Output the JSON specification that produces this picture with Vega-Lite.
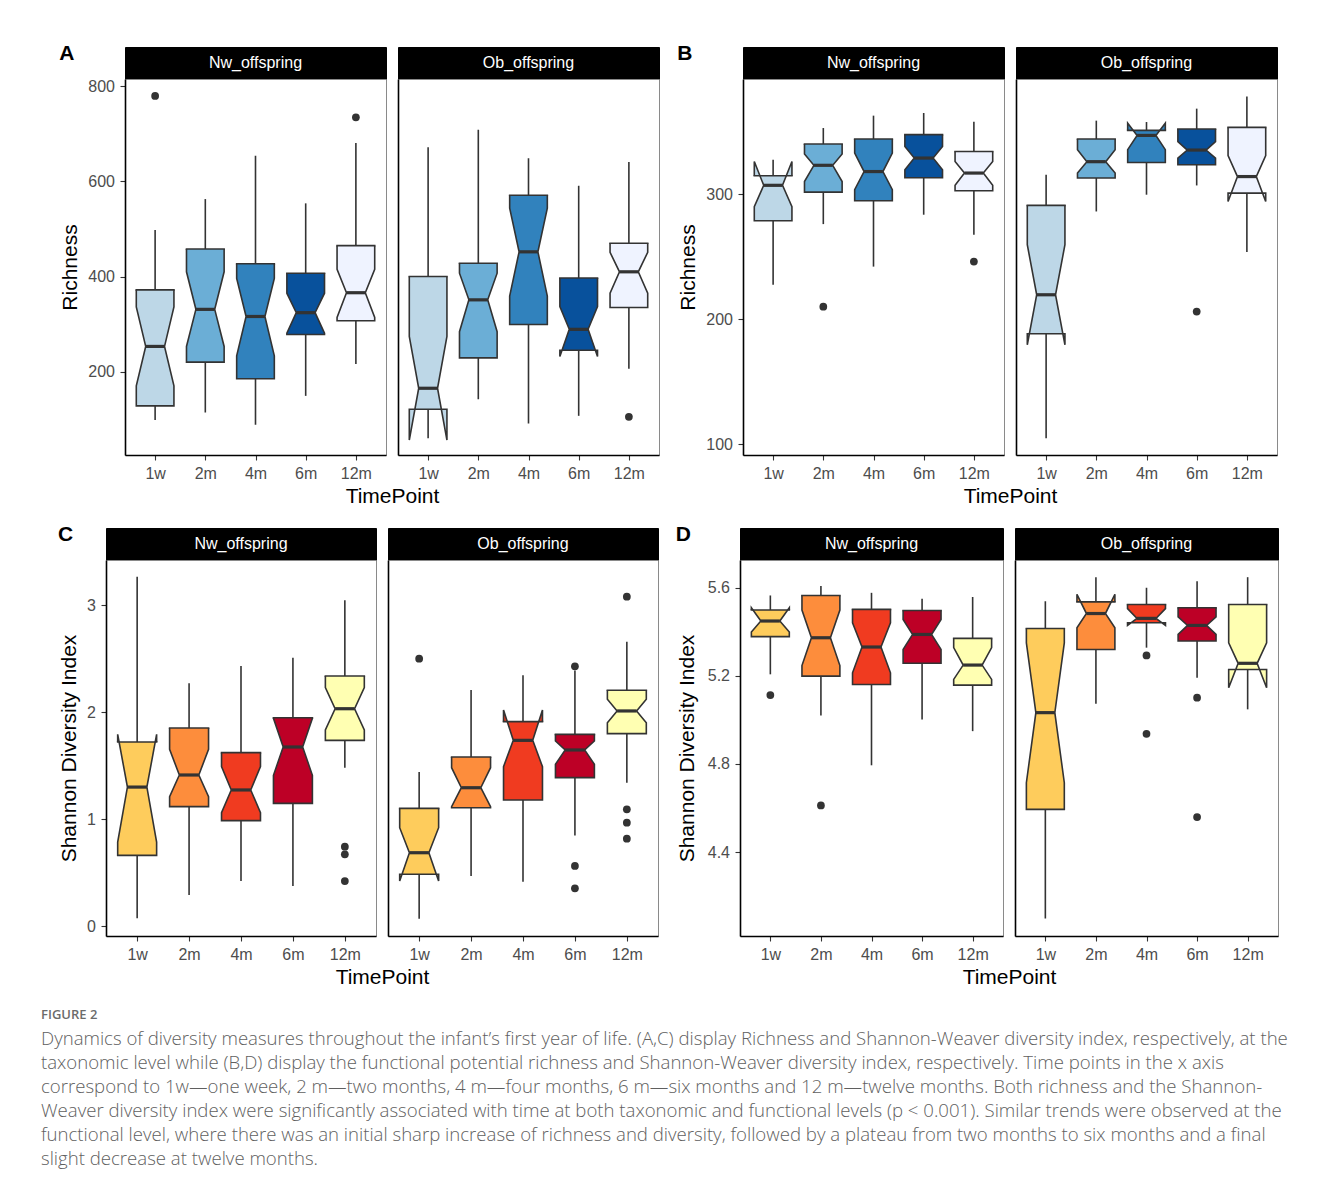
{
"$schema": "https://vega.github.io/schema/vega-lite/v6.json",
"padding": {"left": 41, "top": 42, "right": 5, "bottom": 5},
"config": {
  "font": "Liberation Sans",
  "axis": {"domainColor": "#000000", "domainWidth": 1.6, "tickColor": "#333333", "tickWidth": 1.1, "tickSize": 5, "labelFont": "Liberation Sans", "labelFontSize": 16, "labelColor": "#4d4d4d", "labelPadding": 5.5, "titleFont": "Liberation Sans", "titleFontSize": 21, "titleFontWeight": "normal", "titleColor": "#000000", "grid": false},
  "axisX": {"titlePadding": 4, "labelPadding": 5},
  "axisY": {"titlePadding": 7}
},
"resolve": {"scale": {"fill": "independent"}},
"datasets": {
  "box": [
    {"p":"A","g":"Nw","tp":"1w","lo":98,"q1":128,"nlo":170,"med":253,"nhi":336,"q3":372,"hi":498},
    {"p":"A","g":"Nw","tp":"2m","lo":114,"q1":220,"nlo":253,"med":331,"nhi":410,"q3":458,"hi":563},
    {"p":"A","g":"Nw","tp":"4m","lo":88,"q1":185,"nlo":233,"med":316,"nhi":396,"q3":427,"hi":654},
    {"p":"A","g":"Nw","tp":"6m","lo":149,"q1":278,"nlo":281,"med":324,"nhi":365,"q3":407,"hi":554},
    {"p":"A","g":"Nw","tp":"12m","lo":216,"q1":307,"nlo":314,"med":366,"nhi":415,"q3":465,"hi":681},
    {"p":"A","g":"Ob","tp":"1w","lo":60,"q1":121,"nlo":56,"med":165,"nhi":274,"q3":400,"hi":672},
    {"p":"A","g":"Ob","tp":"2m","lo":142,"q1":229,"nlo":284,"med":351,"nhi":407,"q3":428,"hi":709},
    {"p":"A","g":"Ob","tp":"4m","lo":91,"q1":299,"nlo":359,"med":452,"nhi":544,"q3":571,"hi":649},
    {"p":"A","g":"Ob","tp":"6m","lo":107,"q1":245,"nlo":232,"med":289,"nhi":337,"q3":397,"hi":591},
    {"p":"A","g":"Ob","tp":"12m","lo":206,"q1":335,"nlo":365,"med":410,"nhi":451,"q3":470,"hi":641},
    {"p":"B","g":"Nw","tp":"1w","lo":227.5,"q1":278.7,"nlo":290,"med":307,"nhi":326,"q3":314.7,"hi":327.5},
    {"p":"B","g":"Nw","tp":"2m","lo":276,"q1":301.6,"nlo":310,"med":323,"nhi":332,"q3":340,"hi":352.8},
    {"p":"B","g":"Nw","tp":"4m","lo":242,"q1":294.7,"nlo":303.5,"med":318,"nhi":332.8,"q3":344,"hi":362.7},
    {"p":"B","g":"Nw","tp":"6m","lo":283.5,"q1":313,"nlo":319.5,"med":328.8,"nhi":338,"q3":347.5,"hi":364.8},
    {"p":"B","g":"Nw","tp":"12m","lo":267.5,"q1":302.7,"nlo":307,"med":316.8,"nhi":326,"q3":334,"hi":357.9},
    {"p":"B","g":"Ob","tp":"1w","lo":104.8,"q1":188.3,"nlo":179.5,"med":219.5,"nhi":259.5,"q3":291,"hi":315.5},
    {"p":"B","g":"Ob","tp":"2m","lo":286.1,"q1":312.8,"nlo":316.8,"med":325.9,"nhi":335.5,"q3":344,"hi":358.7},
    {"p":"B","g":"Ob","tp":"4m","lo":299.5,"q1":325.3,"nlo":335.5,"med":346.9,"nhi":356.8,"q3":350.9,"hi":357.6},
    {"p":"B","g":"Ob","tp":"6m","lo":306.9,"q1":323.5,"nlo":328.8,"med":335.2,"nhi":342,"q3":352,"hi":368.3},
    {"p":"B","g":"Ob","tp":"12m","lo":253.6,"q1":300.8,"nlo":294,"med":314,"nhi":330.7,"q3":353.3,"hi":378.1},
    {"p":"C","g":"Nw","tp":"1w","lo":0.072,"q1":0.661,"nlo":0.786,"med":1.3,"nhi":1.793,"q3":1.722,"hi":3.268},
    {"p":"C","g":"Nw","tp":"2m","lo":0.29,"q1":1.117,"nlo":1.21,"med":1.413,"nhi":1.653,"q3":1.852,"hi":2.27},
    {"p":"C","g":"Nw","tp":"4m","lo":0.421,"q1":0.986,"nlo":1.061,"med":1.273,"nhi":1.491,"q3":1.622,"hi":2.432},
    {"p":"C","g":"Nw","tp":"6m","lo":0.374,"q1":1.148,"nlo":1.41,"med":1.675,"nhi":1.943,"q3":1.949,"hi":2.51},
    {"p":"C","g":"Nw","tp":"12m","lo":1.481,"q1":1.737,"nlo":1.834,"med":2.033,"nhi":2.23,"q3":2.339,"hi":3.047},
    {"p":"C","g":"Ob","tp":"1w","lo":0.069,"q1":0.484,"nlo":0.421,"med":0.686,"nhi":0.92,"q3":1.101,"hi":1.441},
    {"p":"C","g":"Ob","tp":"2m","lo":0.468,"q1":1.107,"nlo":1.117,"med":1.294,"nhi":1.481,"q3":1.581,"hi":2.208},
    {"p":"C","g":"Ob","tp":"4m","lo":0.415,"q1":1.179,"nlo":1.491,"med":1.737,"nhi":2.021,"q3":1.912,"hi":2.345},
    {"p":"C","g":"Ob","tp":"6m","lo":0.848,"q1":1.388,"nlo":1.513,"med":1.647,"nhi":1.731,"q3":1.793,"hi":2.39},
    {"p":"C","g":"Ob","tp":"12m","lo":1.341,"q1":1.8,"nlo":1.902,"med":2.012,"nhi":2.121,"q3":2.205,"hi":2.66},
    {"p":"D","g":"Nw","tp":"1w","lo":5.207,"q1":5.378,"nlo":5.399,"med":5.449,"nhi":5.509,"q3":5.499,"hi":5.565},
    {"p":"D","g":"Nw","tp":"2m","lo":5.02,"q1":5.199,"nlo":5.247,"med":5.373,"nhi":5.499,"q3":5.565,"hi":5.608},
    {"p":"D","g":"Nw","tp":"4m","lo":4.794,"q1":5.161,"nlo":5.214,"med":5.331,"nhi":5.441,"q3":5.502,"hi":5.577},
    {"p":"D","g":"Nw","tp":"6m","lo":5.002,"q1":5.257,"nlo":5.32,"med":5.388,"nhi":5.456,"q3":5.497,"hi":5.55},
    {"p":"D","g":"Nw","tp":"12m","lo":4.949,"q1":5.158,"nlo":5.184,"med":5.249,"nhi":5.328,"q3":5.37,"hi":5.558},
    {"p":"D","g":"Ob","tp":"1w","lo":4.098,"q1":4.594,"nlo":4.715,"med":5.033,"nhi":5.35,"q3":5.415,"hi":5.539},
    {"p":"D","g":"Ob","tp":"2m","lo":5.073,"q1":5.32,"nlo":5.418,"med":5.483,"nhi":5.57,"q3":5.536,"hi":5.648},
    {"p":"D","g":"Ob","tp":"4m","lo":5.328,"q1":5.441,"nlo":5.429,"med":5.461,"nhi":5.505,"q3":5.524,"hi":5.6},
    {"p":"D","g":"Ob","tp":"6m","lo":5.191,"q1":5.358,"nlo":5.388,"med":5.429,"nhi":5.468,"q3":5.509,"hi":5.63},
    {"p":"D","g":"Ob","tp":"12m","lo":5.048,"q1":5.229,"nlo":5.146,"med":5.257,"nhi":5.35,"q3":5.524,"hi":5.648}
  ],
  "out": [
    {"p":"A","g":"Nw","tp":"1w","v":780},
    {"p":"A","g":"Nw","tp":"12m","v":735},
    {"p":"A","g":"Ob","tp":"12m","v":105},
    {"p":"B","g":"Nw","tp":"2m","v":210},
    {"p":"B","g":"Nw","tp":"12m","v":246},
    {"p":"B","g":"Ob","tp":"6m","v":206.1},
    {"p":"C","g":"Nw","tp":"12m","v":0.742},
    {"p":"C","g":"Nw","tp":"12m","v":0.671},
    {"p":"C","g":"Nw","tp":"12m","v":0.421},
    {"p":"C","g":"Ob","tp":"1w","v":2.501},
    {"p":"C","g":"Ob","tp":"6m","v":2.43},
    {"p":"C","g":"Ob","tp":"6m","v":0.562},
    {"p":"C","g":"Ob","tp":"6m","v":0.353},
    {"p":"C","g":"Ob","tp":"12m","v":3.081},
    {"p":"C","g":"Ob","tp":"12m","v":1.092},
    {"p":"C","g":"Ob","tp":"12m","v":0.967},
    {"p":"C","g":"Ob","tp":"12m","v":0.817},
    {"p":"D","g":"Nw","tp":"1w","v":5.113},
    {"p":"D","g":"Nw","tp":"2m","v":4.612},
    {"p":"D","g":"Ob","tp":"4m","v":5.293},
    {"p":"D","g":"Ob","tp":"4m","v":4.937},
    {"p":"D","g":"Ob","tp":"6m","v":5.101},
    {"p":"D","g":"Ob","tp":"6m","v":4.559}
  ]
},
"title": {
  "text": "FIGURE 2",
  "subtitle": [
    "Dynamics of diversity measures throughout the infant’s first year of life. (A,C) display Richness and Shannon-Weaver diversity index, respectively, at the",
    "taxonomic level while (B,D) display the functional potential richness and Shannon-Weaver diversity index, respectively. Time points in the x axis",
    "correspond to 1w—one week, 2 m—two months, 4 m—four months, 6 m—six months and 12 m—twelve months. Both richness and the Shannon-",
    "Weaver diversity index were significantly associated with time at both taxonomic and functional levels (p < 0.001). Similar trends were observed at the",
    "functional level, where there was an initial sharp increase of richness and diversity, followed by a plateau from two months to six months and a final",
    "slight decrease at twelve months."
  ],
  "orient": "bottom", "anchor": "start", "frame": "bounds", "dx": 0, "offset": 21,
  "font": "Open Sans", "fontSize": 13, "fontWeight": 600, "color": "#6b6b6b",
  "subtitleFont": "Open Sans", "subtitleFontSize": 18.6, "subtitleFontWeight": 300, "subtitleColor": "#5f5f5f", "subtitleLineHeight": 24, "subtitlePadding": 8
},
"vconcat": [
 {"hconcat": [
  {"width": 1, "height": 1, "data": {"values": []}, "mark": "point", "view": {"stroke": null}},
  {"columns": 2, "bounds": "flush", "spacing": {"row": 0, "column": 12},
   "title": {"text": "A", "anchor": "start", "frame": "bounds", "fontSize": 21, "fontWeight": "bold", "color": "#000000", "offset": 0, "dy": 17},
   "concat": [
    {"width": 261, "height": 32, "view": {"fill": "#000000", "stroke": "#000000"}, "data": {"values": [{"s": "Nw_offspring"}]}, "mark": {"type": "text", "color": "#ffffff", "fontSize": 16}, "encoding": {"text": {"field": "s"}}},
    {"width": 261, "height": 32, "view": {"fill": "#000000", "stroke": "#000000"}, "data": {"values": [{"s": "Ob_offspring"}]}, "mark": {"type": "text", "color": "#ffffff", "fontSize": 16}, "encoding": {"text": {"field": "s"}}},
    {"width": 261, "height": 376, "view": {"stroke": "#8a8a8a", "strokeWidth": 1},
     "data": {"name": "box"},
     "transform": [{"filter": "datum.p == 'A' && datum.g == 'Nw'"}, {"calculate": "indexof(['1w','2m','4m','6m','12m'], datum.tp) + 1", "as": "ix"}, {"calculate": "datum.ix - 0.375", "as": "xl"}, {"calculate": "datum.ix + 0.375", "as": "xr"}, {"calculate": "datum.ix - 0.1875", "as": "ml"}, {"calculate": "datum.ix + 0.1875", "as": "mr"}],
     "layer": [
      {"mark": {"type": "rule", "color": "#333333", "strokeWidth": 1.6}, "encoding": {
        "x": {"field": "ix", "type": "quantitative", "scale": {"domain": [0.4, 5.6], "nice": false, "zero": false}, "axis": {"values": [1,2,3,4,5], "labelExpr": "['1w','2m','4m','6m','12m'][datum.value - 1]", "title": "TimePoint", "titleX": 267}},
        "y": {"field": "lo", "type": "quantitative", "scale": {"domain": [24.6, 815.6], "nice": false, "zero": false}, "axis": {"values": [200,400,600,800], "format": "d", "title": "Richness"}},
        "y2": {"field": "hi"}}},
      {"transform": [{"fold": ["q3","nhi","med","nlo","q1"], "as": ["k","yv"]}, {"calculate": "1", "as": "sL"}, {"calculate": "1", "as": "sR"}, {"fold": ["sL","sR"], "as": ["side","one"]}, {"calculate": "indexof(['q3','nhi','med','nlo','q1'], datum.k)", "as": "kk"}, {"calculate": "datum.side == 'sL' ? datum.kk : 9 - datum.kk", "as": "ord"}, {"calculate": "datum.ix + (datum.side == 'sL' ? -1 : 1) * (datum.k == 'med' ? 0.1875 : 0.375)", "as": "xv"}],
       "mark": {"type": "line", "stroke": "#333333", "strokeWidth": 1.6, "strokeJoin": "miter", "strokeMiterLimit": 4},
       "encoding": {"x": {"field": "xv", "type": "quantitative"}, "y": {"field": "yv", "type": "quantitative"}, "order": {"field": "ord", "type": "quantitative"}, "detail": {"field": "tp"}, "fill": {"field": "tp", "type": "nominal", "legend": null, "scale": {"domain": ["1w","2m","4m","6m","12m"], "range": ["#BDD7E7","#6BAED6","#3182BD","#08519C","#EFF3FF"]}}}},
      {"mark": {"type": "rule", "color": "#333333", "strokeWidth": 1.6, "strokeCap": "square"}, "encoding": {"x": {"field": "xl", "type": "quantitative"}, "x2": {"field": "xr"}, "y": {"field": "q3", "type": "quantitative"}}},
      {"mark": {"type": "rule", "color": "#333333", "strokeWidth": 3.2}, "encoding": {"x": {"field": "ml", "type": "quantitative"}, "x2": {"field": "mr"}, "y": {"field": "med", "type": "quantitative"}}},
      {"data": {"name": "out"}, "transform": [{"filter": "datum.p == 'A' && datum.g == 'Nw'"}, {"calculate": "indexof(['1w','2m','4m','6m','12m'], datum.tp) + 1", "as": "ix"}], "mark": {"type": "point", "filled": true, "color": "#333333", "size": 60, "opacity": 1}, "encoding": {"x": {"field": "ix", "type": "quantitative"}, "y": {"field": "v", "type": "quantitative"}}}
     ]},
    {"width": 261, "height": 376, "view": {"stroke": "#8a8a8a", "strokeWidth": 1},
     "data": {"name": "box"},
     "transform": [{"filter": "datum.p == 'A' && datum.g == 'Ob'"}, {"calculate": "indexof(['1w','2m','4m','6m','12m'], datum.tp) + 1", "as": "ix"}, {"calculate": "datum.ix - 0.375", "as": "xl"}, {"calculate": "datum.ix + 0.375", "as": "xr"}, {"calculate": "datum.ix - 0.1875", "as": "ml"}, {"calculate": "datum.ix + 0.1875", "as": "mr"}],
     "layer": [
      {"mark": {"type": "rule", "color": "#333333", "strokeWidth": 1.6}, "encoding": {
        "x": {"field": "ix", "type": "quantitative", "scale": {"domain": [0.4, 5.6], "nice": false, "zero": false}, "axis": {"values": [1,2,3,4,5], "labelExpr": "['1w','2m','4m','6m','12m'][datum.value - 1]", "title": null}},
        "y": {"field": "lo", "type": "quantitative", "scale": {"domain": [24.6, 815.6], "nice": false, "zero": false}, "axis": {"labels": false, "ticks": false, "title": null}},
        "y2": {"field": "hi"}}},
      {"transform": [{"fold": ["q3","nhi","med","nlo","q1"], "as": ["k","yv"]}, {"calculate": "1", "as": "sL"}, {"calculate": "1", "as": "sR"}, {"fold": ["sL","sR"], "as": ["side","one"]}, {"calculate": "indexof(['q3','nhi','med','nlo','q1'], datum.k)", "as": "kk"}, {"calculate": "datum.side == 'sL' ? datum.kk : 9 - datum.kk", "as": "ord"}, {"calculate": "datum.ix + (datum.side == 'sL' ? -1 : 1) * (datum.k == 'med' ? 0.1875 : 0.375)", "as": "xv"}],
       "mark": {"type": "line", "stroke": "#333333", "strokeWidth": 1.6, "strokeJoin": "miter", "strokeMiterLimit": 4},
       "encoding": {"x": {"field": "xv", "type": "quantitative"}, "y": {"field": "yv", "type": "quantitative"}, "order": {"field": "ord", "type": "quantitative"}, "detail": {"field": "tp"}, "fill": {"field": "tp", "type": "nominal", "legend": null, "scale": {"domain": ["1w","2m","4m","6m","12m"], "range": ["#BDD7E7","#6BAED6","#3182BD","#08519C","#EFF3FF"]}}}},
      {"mark": {"type": "rule", "color": "#333333", "strokeWidth": 1.6, "strokeCap": "square"}, "encoding": {"x": {"field": "xl", "type": "quantitative"}, "x2": {"field": "xr"}, "y": {"field": "q3", "type": "quantitative"}}},
      {"mark": {"type": "rule", "color": "#333333", "strokeWidth": 3.2}, "encoding": {"x": {"field": "ml", "type": "quantitative"}, "x2": {"field": "mr"}, "y": {"field": "med", "type": "quantitative"}}},
      {"data": {"name": "out"}, "transform": [{"filter": "datum.p == 'A' && datum.g == 'Ob'"}, {"calculate": "indexof(['1w','2m','4m','6m','12m'], datum.tp) + 1", "as": "ix"}], "mark": {"type": "point", "filled": true, "color": "#333333", "size": 60, "opacity": 1}, "encoding": {"x": {"field": "ix", "type": "quantitative"}, "y": {"field": "v", "type": "quantitative"}}}
     ]}
   ]},
  {"columns": 2, "bounds": "flush", "spacing": {"row": 0, "column": 12},
   "title": {"text": "B", "anchor": "start", "frame": "bounds", "fontSize": 21, "fontWeight": "bold", "color": "#000000", "offset": 0, "dy": 17},
   "concat": [
    {"width": 261, "height": 32, "view": {"fill": "#000000", "stroke": "#000000"}, "data": {"values": [{"s": "Nw_offspring"}]}, "mark": {"type": "text", "color": "#ffffff", "fontSize": 16}, "encoding": {"text": {"field": "s"}}},
    {"width": 261, "height": 32, "view": {"fill": "#000000", "stroke": "#000000"}, "data": {"values": [{"s": "Ob_offspring"}]}, "mark": {"type": "text", "color": "#ffffff", "fontSize": 16}, "encoding": {"text": {"field": "s"}}},
    {"width": 261, "height": 376, "view": {"stroke": "#8a8a8a", "strokeWidth": 1},
     "data": {"name": "box"},
     "transform": [{"filter": "datum.p == 'B' && datum.g == 'Nw'"}, {"calculate": "indexof(['1w','2m','4m','6m','12m'], datum.tp) + 1", "as": "ix"}, {"calculate": "datum.ix - 0.375", "as": "xl"}, {"calculate": "datum.ix + 0.375", "as": "xr"}, {"calculate": "datum.ix - 0.1875", "as": "ml"}, {"calculate": "datum.ix + 0.1875", "as": "mr"}],
     "layer": [
      {"mark": {"type": "rule", "color": "#333333", "strokeWidth": 1.6}, "encoding": {
        "x": {"field": "ix", "type": "quantitative", "scale": {"domain": [0.4, 5.6], "nice": false, "zero": false}, "axis": {"values": [1,2,3,4,5], "labelExpr": "['1w','2m','4m','6m','12m'][datum.value - 1]", "title": "TimePoint", "titleX": 267}},
        "y": {"field": "lo", "type": "quantitative", "scale": {"domain": [91.4, 392], "nice": false, "zero": false}, "axis": {"values": [100,200,300], "format": "d", "title": "Richness"}},
        "y2": {"field": "hi"}}},
      {"transform": [{"fold": ["q3","nhi","med","nlo","q1"], "as": ["k","yv"]}, {"calculate": "1", "as": "sL"}, {"calculate": "1", "as": "sR"}, {"fold": ["sL","sR"], "as": ["side","one"]}, {"calculate": "indexof(['q3','nhi','med','nlo','q1'], datum.k)", "as": "kk"}, {"calculate": "datum.side == 'sL' ? datum.kk : 9 - datum.kk", "as": "ord"}, {"calculate": "datum.ix + (datum.side == 'sL' ? -1 : 1) * (datum.k == 'med' ? 0.1875 : 0.375)", "as": "xv"}],
       "mark": {"type": "line", "stroke": "#333333", "strokeWidth": 1.6, "strokeJoin": "miter", "strokeMiterLimit": 4},
       "encoding": {"x": {"field": "xv", "type": "quantitative"}, "y": {"field": "yv", "type": "quantitative"}, "order": {"field": "ord", "type": "quantitative"}, "detail": {"field": "tp"}, "fill": {"field": "tp", "type": "nominal", "legend": null, "scale": {"domain": ["1w","2m","4m","6m","12m"], "range": ["#BDD7E7","#6BAED6","#3182BD","#08519C","#EFF3FF"]}}}},
      {"mark": {"type": "rule", "color": "#333333", "strokeWidth": 1.6, "strokeCap": "square"}, "encoding": {"x": {"field": "xl", "type": "quantitative"}, "x2": {"field": "xr"}, "y": {"field": "q3", "type": "quantitative"}}},
      {"mark": {"type": "rule", "color": "#333333", "strokeWidth": 3.2}, "encoding": {"x": {"field": "ml", "type": "quantitative"}, "x2": {"field": "mr"}, "y": {"field": "med", "type": "quantitative"}}},
      {"data": {"name": "out"}, "transform": [{"filter": "datum.p == 'B' && datum.g == 'Nw'"}, {"calculate": "indexof(['1w','2m','4m','6m','12m'], datum.tp) + 1", "as": "ix"}], "mark": {"type": "point", "filled": true, "color": "#333333", "size": 60, "opacity": 1}, "encoding": {"x": {"field": "ix", "type": "quantitative"}, "y": {"field": "v", "type": "quantitative"}}}
     ]},
    {"width": 261, "height": 376, "view": {"stroke": "#8a8a8a", "strokeWidth": 1},
     "data": {"name": "box"},
     "transform": [{"filter": "datum.p == 'B' && datum.g == 'Ob'"}, {"calculate": "indexof(['1w','2m','4m','6m','12m'], datum.tp) + 1", "as": "ix"}, {"calculate": "datum.ix - 0.375", "as": "xl"}, {"calculate": "datum.ix + 0.375", "as": "xr"}, {"calculate": "datum.ix - 0.1875", "as": "ml"}, {"calculate": "datum.ix + 0.1875", "as": "mr"}],
     "layer": [
      {"mark": {"type": "rule", "color": "#333333", "strokeWidth": 1.6}, "encoding": {
        "x": {"field": "ix", "type": "quantitative", "scale": {"domain": [0.4, 5.6], "nice": false, "zero": false}, "axis": {"values": [1,2,3,4,5], "labelExpr": "['1w','2m','4m','6m','12m'][datum.value - 1]", "title": null}},
        "y": {"field": "lo", "type": "quantitative", "scale": {"domain": [91.4, 392], "nice": false, "zero": false}, "axis": {"labels": false, "ticks": false, "title": null}},
        "y2": {"field": "hi"}}},
      {"transform": [{"fold": ["q3","nhi","med","nlo","q1"], "as": ["k","yv"]}, {"calculate": "1", "as": "sL"}, {"calculate": "1", "as": "sR"}, {"fold": ["sL","sR"], "as": ["side","one"]}, {"calculate": "indexof(['q3','nhi','med','nlo','q1'], datum.k)", "as": "kk"}, {"calculate": "datum.side == 'sL' ? datum.kk : 9 - datum.kk", "as": "ord"}, {"calculate": "datum.ix + (datum.side == 'sL' ? -1 : 1) * (datum.k == 'med' ? 0.1875 : 0.375)", "as": "xv"}],
       "mark": {"type": "line", "stroke": "#333333", "strokeWidth": 1.6, "strokeJoin": "miter", "strokeMiterLimit": 4},
       "encoding": {"x": {"field": "xv", "type": "quantitative"}, "y": {"field": "yv", "type": "quantitative"}, "order": {"field": "ord", "type": "quantitative"}, "detail": {"field": "tp"}, "fill": {"field": "tp", "type": "nominal", "legend": null, "scale": {"domain": ["1w","2m","4m","6m","12m"], "range": ["#BDD7E7","#6BAED6","#3182BD","#08519C","#EFF3FF"]}}}},
      {"mark": {"type": "rule", "color": "#333333", "strokeWidth": 1.6, "strokeCap": "square"}, "encoding": {"x": {"field": "xl", "type": "quantitative"}, "x2": {"field": "xr"}, "y": {"field": "q3", "type": "quantitative"}}},
      {"mark": {"type": "rule", "color": "#333333", "strokeWidth": 3.2}, "encoding": {"x": {"field": "ml", "type": "quantitative"}, "x2": {"field": "mr"}, "y": {"field": "med", "type": "quantitative"}}},
      {"data": {"name": "out"}, "transform": [{"filter": "datum.p == 'B' && datum.g == 'Ob'"}, {"calculate": "indexof(['1w','2m','4m','6m','12m'], datum.tp) + 1", "as": "ix"}], "mark": {"type": "point", "filled": true, "color": "#333333", "size": 60, "opacity": 1}, "encoding": {"x": {"field": "ix", "type": "quantitative"}, "y": {"field": "v", "type": "quantitative"}}}
     ]}
   ]}
 ], "spacing": 17},
 {"hconcat": [
  {"width": 1, "height": 1, "data": {"values": []}, "mark": "point", "view": {"stroke": null}},
  {"columns": 2, "bounds": "flush", "spacing": {"row": 0, "column": 12},
   "title": {"text": "C", "anchor": "start", "frame": "bounds", "fontSize": 21, "fontWeight": "bold", "color": "#000000", "offset": 0, "dy": 17},
   "concat": [
    {"width": 270, "height": 32, "view": {"fill": "#000000", "stroke": "#000000"}, "data": {"values": [{"s": "Nw_offspring"}]}, "mark": {"type": "text", "color": "#ffffff", "fontSize": 16}, "encoding": {"text": {"field": "s"}}},
    {"width": 270, "height": 32, "view": {"fill": "#000000", "stroke": "#000000"}, "data": {"values": [{"s": "Ob_offspring"}]}, "mark": {"type": "text", "color": "#ffffff", "fontSize": 16}, "encoding": {"text": {"field": "s"}}},
    {"width": 270, "height": 376, "view": {"stroke": "#8a8a8a", "strokeWidth": 1},
     "data": {"name": "box"},
     "transform": [{"filter": "datum.p == 'C' && datum.g == 'Nw'"}, {"calculate": "indexof(['1w','2m','4m','6m','12m'], datum.tp) + 1", "as": "ix"}, {"calculate": "datum.ix - 0.375", "as": "xl"}, {"calculate": "datum.ix + 0.375", "as": "xr"}, {"calculate": "datum.ix - 0.1875", "as": "ml"}, {"calculate": "datum.ix + 0.1875", "as": "mr"}],
     "layer": [
      {"mark": {"type": "rule", "color": "#333333", "strokeWidth": 1.6}, "encoding": {
        "x": {"field": "ix", "type": "quantitative", "scale": {"domain": [0.4, 5.6], "nice": false, "zero": false}, "axis": {"values": [1,2,3,4,5], "labelExpr": "['1w','2m','4m','6m','12m'][datum.value - 1]", "title": "TimePoint", "titleX": 276}},
        "y": {"field": "lo", "type": "quantitative", "scale": {"domain": [-0.093, 3.424], "nice": false, "zero": false}, "axis": {"values": [0,1,2,3], "format": "d", "title": "Shannon Diversity Index"}},
        "y2": {"field": "hi"}}},
      {"transform": [{"fold": ["q3","nhi","med","nlo","q1"], "as": ["k","yv"]}, {"calculate": "1", "as": "sL"}, {"calculate": "1", "as": "sR"}, {"fold": ["sL","sR"], "as": ["side","one"]}, {"calculate": "indexof(['q3','nhi','med','nlo','q1'], datum.k)", "as": "kk"}, {"calculate": "datum.side == 'sL' ? datum.kk : 9 - datum.kk", "as": "ord"}, {"calculate": "datum.ix + (datum.side == 'sL' ? -1 : 1) * (datum.k == 'med' ? 0.1875 : 0.375)", "as": "xv"}],
       "mark": {"type": "line", "stroke": "#333333", "strokeWidth": 1.6, "strokeJoin": "miter", "strokeMiterLimit": 4},
       "encoding": {"x": {"field": "xv", "type": "quantitative"}, "y": {"field": "yv", "type": "quantitative"}, "order": {"field": "ord", "type": "quantitative"}, "detail": {"field": "tp"}, "fill": {"field": "tp", "type": "nominal", "legend": null, "scale": {"domain": ["1w","2m","4m","6m","12m"], "range": ["#FECC5C","#FD8D3C","#F03B20","#BD0026","#FFFFB2"]}}}},
      {"mark": {"type": "rule", "color": "#333333", "strokeWidth": 1.6, "strokeCap": "square"}, "encoding": {"x": {"field": "xl", "type": "quantitative"}, "x2": {"field": "xr"}, "y": {"field": "q3", "type": "quantitative"}}},
      {"mark": {"type": "rule", "color": "#333333", "strokeWidth": 3.2}, "encoding": {"x": {"field": "ml", "type": "quantitative"}, "x2": {"field": "mr"}, "y": {"field": "med", "type": "quantitative"}}},
      {"data": {"name": "out"}, "transform": [{"filter": "datum.p == 'C' && datum.g == 'Nw'"}, {"calculate": "indexof(['1w','2m','4m','6m','12m'], datum.tp) + 1", "as": "ix"}], "mark": {"type": "point", "filled": true, "color": "#333333", "size": 60, "opacity": 1}, "encoding": {"x": {"field": "ix", "type": "quantitative"}, "y": {"field": "v", "type": "quantitative"}}}
     ]},
    {"width": 270, "height": 376, "view": {"stroke": "#8a8a8a", "strokeWidth": 1},
     "data": {"name": "box"},
     "transform": [{"filter": "datum.p == 'C' && datum.g == 'Ob'"}, {"calculate": "indexof(['1w','2m','4m','6m','12m'], datum.tp) + 1", "as": "ix"}, {"calculate": "datum.ix - 0.375", "as": "xl"}, {"calculate": "datum.ix + 0.375", "as": "xr"}, {"calculate": "datum.ix - 0.1875", "as": "ml"}, {"calculate": "datum.ix + 0.1875", "as": "mr"}],
     "layer": [
      {"mark": {"type": "rule", "color": "#333333", "strokeWidth": 1.6}, "encoding": {
        "x": {"field": "ix", "type": "quantitative", "scale": {"domain": [0.4, 5.6], "nice": false, "zero": false}, "axis": {"values": [1,2,3,4,5], "labelExpr": "['1w','2m','4m','6m','12m'][datum.value - 1]", "title": null}},
        "y": {"field": "lo", "type": "quantitative", "scale": {"domain": [-0.093, 3.424], "nice": false, "zero": false}, "axis": {"labels": false, "ticks": false, "title": null}},
        "y2": {"field": "hi"}}},
      {"transform": [{"fold": ["q3","nhi","med","nlo","q1"], "as": ["k","yv"]}, {"calculate": "1", "as": "sL"}, {"calculate": "1", "as": "sR"}, {"fold": ["sL","sR"], "as": ["side","one"]}, {"calculate": "indexof(['q3','nhi','med','nlo','q1'], datum.k)", "as": "kk"}, {"calculate": "datum.side == 'sL' ? datum.kk : 9 - datum.kk", "as": "ord"}, {"calculate": "datum.ix + (datum.side == 'sL' ? -1 : 1) * (datum.k == 'med' ? 0.1875 : 0.375)", "as": "xv"}],
       "mark": {"type": "line", "stroke": "#333333", "strokeWidth": 1.6, "strokeJoin": "miter", "strokeMiterLimit": 4},
       "encoding": {"x": {"field": "xv", "type": "quantitative"}, "y": {"field": "yv", "type": "quantitative"}, "order": {"field": "ord", "type": "quantitative"}, "detail": {"field": "tp"}, "fill": {"field": "tp", "type": "nominal", "legend": null, "scale": {"domain": ["1w","2m","4m","6m","12m"], "range": ["#FECC5C","#FD8D3C","#F03B20","#BD0026","#FFFFB2"]}}}},
      {"mark": {"type": "rule", "color": "#333333", "strokeWidth": 1.6, "strokeCap": "square"}, "encoding": {"x": {"field": "xl", "type": "quantitative"}, "x2": {"field": "xr"}, "y": {"field": "q3", "type": "quantitative"}}},
      {"mark": {"type": "rule", "color": "#333333", "strokeWidth": 3.2}, "encoding": {"x": {"field": "ml", "type": "quantitative"}, "x2": {"field": "mr"}, "y": {"field": "med", "type": "quantitative"}}},
      {"data": {"name": "out"}, "transform": [{"filter": "datum.p == 'C' && datum.g == 'Ob'"}, {"calculate": "indexof(['1w','2m','4m','6m','12m'], datum.tp) + 1", "as": "ix"}], "mark": {"type": "point", "filled": true, "color": "#333333", "size": 60, "opacity": 1}, "encoding": {"x": {"field": "ix", "type": "quantitative"}, "y": {"field": "v", "type": "quantitative"}}}
     ]}
   ]},
  {"columns": 2, "bounds": "flush", "spacing": {"row": 0, "column": 12},
   "title": {"text": "D", "anchor": "start", "frame": "bounds", "fontSize": 21, "fontWeight": "bold", "color": "#000000", "offset": 0, "dy": 17},
   "concat": [
    {"width": 263, "height": 32, "view": {"fill": "#000000", "stroke": "#000000"}, "data": {"values": [{"s": "Nw_offspring"}]}, "mark": {"type": "text", "color": "#ffffff", "fontSize": 16}, "encoding": {"text": {"field": "s"}}},
    {"width": 263, "height": 32, "view": {"fill": "#000000", "stroke": "#000000"}, "data": {"values": [{"s": "Ob_offspring"}]}, "mark": {"type": "text", "color": "#ffffff", "fontSize": 16}, "encoding": {"text": {"field": "s"}}},
    {"width": 263, "height": 376, "view": {"stroke": "#8a8a8a", "strokeWidth": 1},
     "data": {"name": "box"},
     "transform": [{"filter": "datum.p == 'D' && datum.g == 'Nw'"}, {"calculate": "indexof(['1w','2m','4m','6m','12m'], datum.tp) + 1", "as": "ix"}, {"calculate": "datum.ix - 0.375", "as": "xl"}, {"calculate": "datum.ix + 0.375", "as": "xr"}, {"calculate": "datum.ix - 0.1875", "as": "ml"}, {"calculate": "datum.ix + 0.1875", "as": "mr"}],
     "layer": [
      {"mark": {"type": "rule", "color": "#333333", "strokeWidth": 1.6}, "encoding": {
        "x": {"field": "ix", "type": "quantitative", "scale": {"domain": [0.4, 5.6], "nice": false, "zero": false}, "axis": {"values": [1,2,3,4,5], "labelExpr": "['1w','2m','4m','6m','12m'][datum.value - 1]", "title": "TimePoint", "titleX": 269}},
        "y": {"field": "lo", "type": "quantitative", "scale": {"domain": [4.019, 5.726], "nice": false, "zero": false}, "axis": {"values": [4.4,4.8,5.2,5.6], "format": ".1f", "title": "Shannon Diversity Index", "titlePadding": 10}},
        "y2": {"field": "hi"}}},
      {"transform": [{"fold": ["q3","nhi","med","nlo","q1"], "as": ["k","yv"]}, {"calculate": "1", "as": "sL"}, {"calculate": "1", "as": "sR"}, {"fold": ["sL","sR"], "as": ["side","one"]}, {"calculate": "indexof(['q3','nhi','med','nlo','q1'], datum.k)", "as": "kk"}, {"calculate": "datum.side == 'sL' ? datum.kk : 9 - datum.kk", "as": "ord"}, {"calculate": "datum.ix + (datum.side == 'sL' ? -1 : 1) * (datum.k == 'med' ? 0.1875 : 0.375)", "as": "xv"}],
       "mark": {"type": "line", "stroke": "#333333", "strokeWidth": 1.6, "strokeJoin": "miter", "strokeMiterLimit": 4},
       "encoding": {"x": {"field": "xv", "type": "quantitative"}, "y": {"field": "yv", "type": "quantitative"}, "order": {"field": "ord", "type": "quantitative"}, "detail": {"field": "tp"}, "fill": {"field": "tp", "type": "nominal", "legend": null, "scale": {"domain": ["1w","2m","4m","6m","12m"], "range": ["#FECC5C","#FD8D3C","#F03B20","#BD0026","#FFFFB2"]}}}},
      {"mark": {"type": "rule", "color": "#333333", "strokeWidth": 1.6, "strokeCap": "square"}, "encoding": {"x": {"field": "xl", "type": "quantitative"}, "x2": {"field": "xr"}, "y": {"field": "q3", "type": "quantitative"}}},
      {"mark": {"type": "rule", "color": "#333333", "strokeWidth": 3.2}, "encoding": {"x": {"field": "ml", "type": "quantitative"}, "x2": {"field": "mr"}, "y": {"field": "med", "type": "quantitative"}}},
      {"data": {"name": "out"}, "transform": [{"filter": "datum.p == 'D' && datum.g == 'Nw'"}, {"calculate": "indexof(['1w','2m','4m','6m','12m'], datum.tp) + 1", "as": "ix"}], "mark": {"type": "point", "filled": true, "color": "#333333", "size": 60, "opacity": 1}, "encoding": {"x": {"field": "ix", "type": "quantitative"}, "y": {"field": "v", "type": "quantitative"}}}
     ]},
    {"width": 263, "height": 376, "view": {"stroke": "#8a8a8a", "strokeWidth": 1},
     "data": {"name": "box"},
     "transform": [{"filter": "datum.p == 'D' && datum.g == 'Ob'"}, {"calculate": "indexof(['1w','2m','4m','6m','12m'], datum.tp) + 1", "as": "ix"}, {"calculate": "datum.ix - 0.375", "as": "xl"}, {"calculate": "datum.ix + 0.375", "as": "xr"}, {"calculate": "datum.ix - 0.1875", "as": "ml"}, {"calculate": "datum.ix + 0.1875", "as": "mr"}],
     "layer": [
      {"mark": {"type": "rule", "color": "#333333", "strokeWidth": 1.6}, "encoding": {
        "x": {"field": "ix", "type": "quantitative", "scale": {"domain": [0.4, 5.6], "nice": false, "zero": false}, "axis": {"values": [1,2,3,4,5], "labelExpr": "['1w','2m','4m','6m','12m'][datum.value - 1]", "title": null}},
        "y": {"field": "lo", "type": "quantitative", "scale": {"domain": [4.019, 5.726], "nice": false, "zero": false}, "axis": {"labels": false, "ticks": false, "title": null}},
        "y2": {"field": "hi"}}},
      {"transform": [{"fold": ["q3","nhi","med","nlo","q1"], "as": ["k","yv"]}, {"calculate": "1", "as": "sL"}, {"calculate": "1", "as": "sR"}, {"fold": ["sL","sR"], "as": ["side","one"]}, {"calculate": "indexof(['q3','nhi','med','nlo','q1'], datum.k)", "as": "kk"}, {"calculate": "datum.side == 'sL' ? datum.kk : 9 - datum.kk", "as": "ord"}, {"calculate": "datum.ix + (datum.side == 'sL' ? -1 : 1) * (datum.k == 'med' ? 0.1875 : 0.375)", "as": "xv"}],
       "mark": {"type": "line", "stroke": "#333333", "strokeWidth": 1.6, "strokeJoin": "miter", "strokeMiterLimit": 4},
       "encoding": {"x": {"field": "xv", "type": "quantitative"}, "y": {"field": "yv", "type": "quantitative"}, "order": {"field": "ord", "type": "quantitative"}, "detail": {"field": "tp"}, "fill": {"field": "tp", "type": "nominal", "legend": null, "scale": {"domain": ["1w","2m","4m","6m","12m"], "range": ["#FECC5C","#FD8D3C","#F03B20","#BD0026","#FFFFB2"]}}}},
      {"mark": {"type": "rule", "color": "#333333", "strokeWidth": 1.6, "strokeCap": "square"}, "encoding": {"x": {"field": "xl", "type": "quantitative"}, "x2": {"field": "xr"}, "y": {"field": "q3", "type": "quantitative"}}},
      {"mark": {"type": "rule", "color": "#333333", "strokeWidth": 3.2}, "encoding": {"x": {"field": "ml", "type": "quantitative"}, "x2": {"field": "mr"}, "y": {"field": "med", "type": "quantitative"}}},
      {"data": {"name": "out"}, "transform": [{"filter": "datum.p == 'D' && datum.g == 'Ob'"}, {"calculate": "indexof(['1w','2m','4m','6m','12m'], datum.tp) + 1", "as": "ix"}], "mark": {"type": "point", "filled": true, "color": "#333333", "size": 60, "opacity": 1}, "encoding": {"x": {"field": "ix", "type": "quantitative"}, "y": {"field": "v", "type": "quantitative"}}}
     ]}
   ]}
 ], "spacing": 16}
],
"spacing": 16
}
